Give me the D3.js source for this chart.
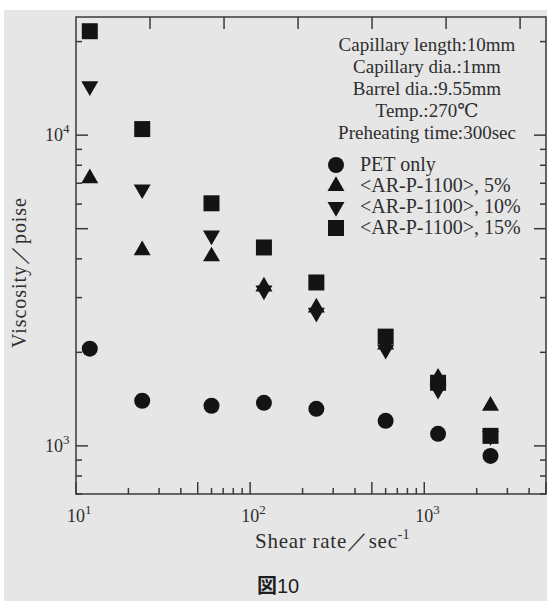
<!DOCTYPE html>
<html>
<head>
<meta charset="utf-8">
<script src="https://cdn.jsdelivr.net/npm/d3@7"></script>
<style>
body { margin: 0; background: #fff; }
svg { display: block; }
.serif { font-family: "Liberation Serif", "DejaVu Serif", serif; fill: #2e2e2e; }
</style>
</head>
<body>
<svg id="chart" width="547" height="603"></svg>
<script>
// shear rate (sec^-1) and viscosity (poise)
let shearRate = [12, 24, 60, 120, 240, 600, 1200, 2400];
let petOnly = [2055, 1397, 1346, 1376, 1316, 1204, 1093, 928];
let ar5 = [7263, 4256, 4070, 3258, 2788, 2117, 1657, 1346];
let ar10 = [14380, 6695, 4757, 3162, 2685, 2040, 1516, 1077];
let ar15 = [21600, 10460, 6035, 4350, 3356, 2247, 1596, 1077];

let seriesNames = ["PET only", "<AR-P-1100>, 5%", "<AR-P-1100>, 10%", "<AR-P-1100>, 15%"];
let conditions = ["Capillary length:10mm", "Capillary dia.:1mm", "Barrel dia.:9.55mm", "Temp.:270\u2103", "Preheating time:300sec"];

let xMajor = [10, 100, 1000];
let yMajor = [1000, 10000];
let topTicks = [1, 2, 3, 4, 5, 6];

const width = 547, height = 603;
const plotLeft = 76, plotRight = 546, plotTop = 17, plotBottom = 494;
const ink = "#141414";

var svg = d3.select("#chart");

// grey panel behind everything
svg.append("rect")
    .attr("x", 4).attr("y", 10)
    .attr("width", width - 4).attr("height", height - 12)
    .attr("fill", "#e6e6e7");

let x = d3.scaleLog().domain([10, 5000]).range([plotLeft, plotRight]);
let y = d3.scaleLog().domain([700, 24000]).range([plotBottom, plotTop]);
let xTop = d3.scaleLinear().domain([0, 6.35]).range([plotLeft, plotRight]);

// 1s and 5s get the long ticks
function tickLen(v) {
    let m = v / Math.pow(10, Math.floor(Math.log10(v) + 1e-9));
    if (Math.abs(m - 1) < 1e-6 || Math.abs(m - 5) < 1e-6) return 12;
    return 6;
}

let g = svg.append("g");

// bottom ticks
g.selectAll(".xt")
    .data(x.ticks())
    .enter()
    .append("line")
    .attr("x1", d => x(d)).attr("x2", d => x(d))
    .attr("y1", plotBottom).attr("y2", d => plotBottom - tickLen(d))
    .attr("stroke", "#3a3a3a").attr("stroke-width", 1.5);

// top ticks
g.selectAll(".tt")
    .data(topTicks)
    .enter()
    .append("line")
    .attr("x1", d => xTop(d)).attr("x2", d => xTop(d))
    .attr("y1", plotTop).attr("y2", plotTop + 12)
    .attr("stroke", "#3a3a3a").attr("stroke-width", 1.5);

// left and right ticks
let yt = y.ticks().filter(d => d >= 700 && d <= 24000);
g.selectAll(".yl")
    .data(yt)
    .enter()
    .append("line")
    .attr("x1", plotLeft).attr("x2", d => plotLeft + tickLen(d))
    .attr("y1", d => y(d)).attr("y2", d => y(d))
    .attr("stroke", "#3a3a3a").attr("stroke-width", 1.5);
g.selectAll(".yr")
    .data(yt)
    .enter()
    .append("line")
    .attr("x1", plotRight).attr("x2", d => plotRight - tickLen(d))
    .attr("y1", d => y(d)).attr("y2", d => y(d))
    .attr("stroke", "#3a3a3a").attr("stroke-width", 1.5);

// frame
svg.append("rect")
    .attr("x", plotLeft).attr("y", plotTop)
    .attr("width", plotRight - plotLeft).attr("height", plotBottom - plotTop)
    .attr("fill", "none")
    .attr("stroke", "#3a3a3a").attr("stroke-width", 1.5);

// tick labels, 10 with a raised exponent
function powerLabel(sel, v) {
    sel.append("tspan").text("10");
    sel.append("tspan")
        .attr("dy", -8)
        .attr("font-size", 13)
        .text(Math.round(Math.log10(v)));
}

xMajor.forEach(v => {
    let t = svg.append("text")
        .attr("class", "serif")
        .attr("x", x(v) - 9)
        .attr("y", 522)
        .attr("font-size", 18);
    powerLabel(t, v);
});

yMajor.forEach(v => {
    let t = svg.append("text")
        .attr("class", "serif")
        .attr("x", 45)
        .attr("y", y(v) + 6)
        .attr("font-size", 18);
    powerLabel(t, v);
});

// axis titles
let xl = svg.append("text")
    .attr("class", "serif")
    .attr("x", 255).attr("y", 548)
    .attr("font-size", 21);
xl.append("tspan")
    .attr("textLength", 142)
    .attr("lengthAdjust", "spacing")
    .text("Shear rate\uFF0Fsec");
xl.append("tspan").attr("dy", -9).attr("font-size", 14).text("-1");

svg.append("text")
    .attr("class", "serif")
    .attr("transform", "translate(26,273) rotate(-90)")
    .attr("text-anchor", "middle")
    .attr("font-size", 20)
    .attr("textLength", 150)
    .attr("lengthAdjust", "spacing")
    .text("Viscosity\uFF0Fpoise");

// measurement conditions
svg.selectAll(".cond")
    .data(conditions)
    .enter()
    .append("text")
    .attr("class", "serif")
    .attr("x", 427)
    .attr("y", (d, i) => 51 + i * 22)
    .attr("text-anchor", "middle")
    .attr("font-size", 19)
    .text(d => d);

// markers
let shapes = [
    { sym: d3.symbolCircle, size: 201, rot: 0, vals: petOnly },
    { sym: d3.symbolTriangle, size: 125, rot: 0, vals: ar5 },
    { sym: d3.symbolTriangle, size: 125, rot: 180, vals: ar10 },
    { sym: d3.symbolSquare, size: 256, rot: 0, vals: ar15 }
];

shapes.forEach((s, k) => {
    let path = d3.symbol().type(s.sym).size(s.size)();
    svg.selectAll(".s" + k)
        .data(s.vals.map((v, i) => ({ rate: shearRate[i], visc: v })))
        .enter()
        .append("path")
        .attr("d", path)
        .attr("fill", ink)
        .attr("transform", d => "translate(" + x(d.rate) + "," + y(d.visc) + ") rotate(" + s.rot + ")");

    // legend row
    let ly = 165 + k * 21;
    svg.append("path")
        .attr("d", path)
        .attr("fill", ink)
        .attr("transform", "translate(336," + ly + ") rotate(" + s.rot + ")");
    svg.append("text")
        .attr("class", "serif")
        .attr("x", 360).attr("y", ly + 6)
        .attr("font-size", 20)
        .text(seriesNames[k]);
});

// caption
let cap = svg.append("text")
    .attr("x", 257).attr("y", 593)
    .attr("font-size", 20)
    .attr("fill", "#1e1e1e");
cap.append("tspan")
    .attr("font-family", "'Noto Sans CJK JP', sans-serif")
    .attr("font-weight", "bold")
    .text("\u56F3");
cap.append("tspan")
    .attr("font-family", "'Liberation Sans', Arial, sans-serif")
    .text("10");
</script>
</body>
</html>
